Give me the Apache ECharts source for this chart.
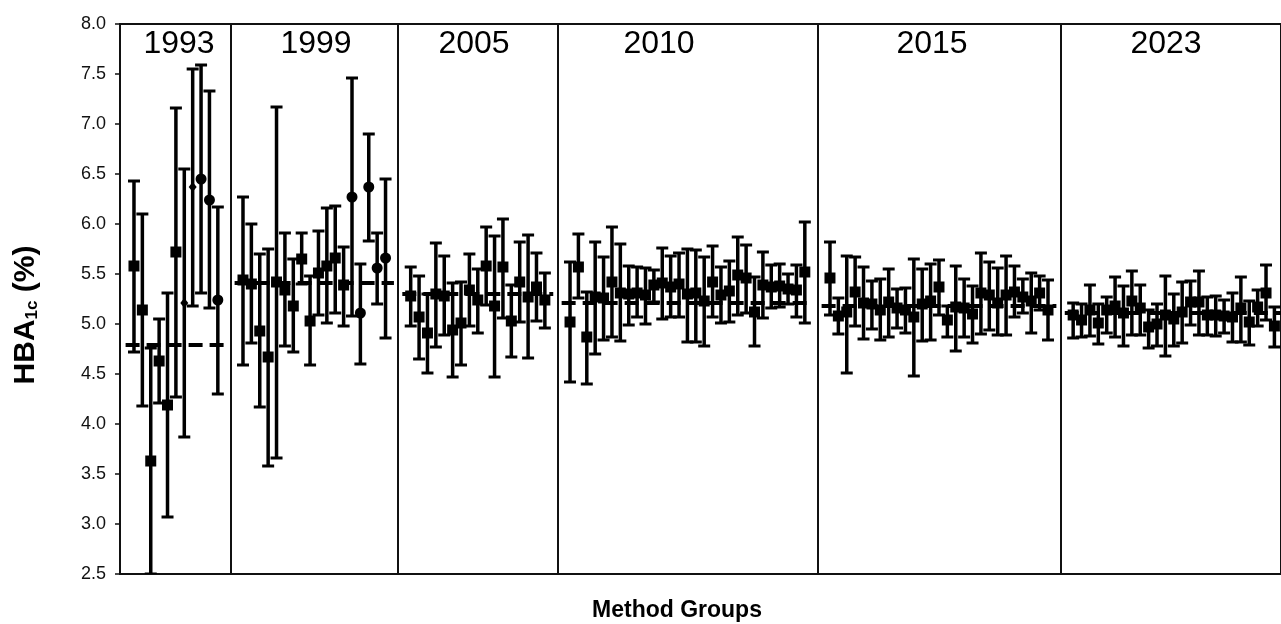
<!DOCTYPE html>
<html><head><meta charset="utf-8">
<script src="https://cdn.jsdelivr.net/npm/echarts@6/dist/echarts.min.js"></script>
<style>html,body{margin:0;padding:0;background:#fff}#c{width:1281px;height:624px}</style>
</head><body><div id="c"></div><script>
// ---- data ----
const years = ['1993','1999','2005','2010','2015','2023'];
const targets = [4.79, 5.41, 5.30, 5.21, 5.18, 5.11];
const yTicks = [2.5,3.0,3.5,4.0,4.5,5.0,5.5,6.0,6.5,7.0,7.5,8.0];

const mean1993 = [5.58, 5.14, 3.63, 4.63, 4.19, 5.72, 5.21, 6.37, 6.45, 6.24, 5.24];
const low1993  = [4.72, 4.18, 2.50, 4.21, 3.07, 4.27, 3.87, 5.18, 5.31, 5.16, 4.30];
const high1993 = [6.43, 6.10, 4.76, 5.05, 5.31, 7.16, 6.55, 7.55, 7.59, 7.33, 6.17];
const mark1993 = ['rect','rect','rect','rect','rect','rect','diamond','diamond','circle','circle','circle'];

const mean1999 = [5.44, 5.40, 4.93, 4.67, 5.42, 5.34, 5.18, 5.65, 5.03, 5.51, 5.58, 5.66, 5.39, 6.27, 5.11, 6.37, 5.56, 5.66];
const low1999  = [4.59, 4.81, 4.17, 3.58, 3.66, 4.78, 4.72, 5.40, 4.59, 5.09, 5.01, 5.11, 4.98, 5.08, 4.60, 5.83, 5.20, 4.86];
const high1999 = [6.27, 6.00, 5.70, 5.75, 7.17, 5.91, 5.65, 5.91, 5.48, 5.93, 6.16, 6.18, 5.77, 7.46, 5.60, 6.90, 5.91, 6.45];
const mark1999 = ['rect','rect','rect','rect','rect','rect','rect','rect','rect','rect','rect','rect','rect','circle','circle','circle','circle','circle'];

const mean2005 = [5.28, 5.07, 4.91, 5.30, 5.28, 4.94, 5.01, 5.34, 5.24, 5.58, 5.18, 5.57, 5.03, 5.42, 5.27, 5.37, 5.24];
const low2005  = [4.98, 4.65, 4.51, 4.77, 4.89, 4.47, 4.59, 4.98, 4.91, 5.19, 4.47, 5.06, 4.67, 5.02, 4.66, 5.03, 4.96];
const high2005 = [5.57, 5.48, 5.30, 5.81, 5.68, 5.41, 5.42, 5.70, 5.55, 5.97, 5.88, 6.05, 5.39, 5.82, 5.89, 5.71, 5.51];

const mean2010 = [5.02, 5.57, 4.87, 5.27, 5.26, 5.42, 5.31, 5.30, 5.31, 5.29, 5.39, 5.41, 5.37, 5.40, 5.30, 5.31, 5.23, 5.42, 5.29, 5.33, 5.49, 5.46, 5.12, 5.39, 5.37, 5.38, 5.35, 5.34, 5.52];
const low2010  = [4.42, 5.26, 4.40, 4.70, 4.84, 4.87, 4.83, 4.99, 5.07, 5.00, 5.22, 5.05, 5.07, 5.07, 4.82, 4.82, 4.78, 5.07, 5.01, 5.02, 5.09, 5.11, 4.78, 5.06, 5.16, 5.17, 5.20, 5.07, 5.01];
const high2010 = [5.62, 5.90, 5.32, 5.82, 5.67, 5.97, 5.80, 5.58, 5.57, 5.56, 5.54, 5.76, 5.68, 5.71, 5.75, 5.74, 5.67, 5.78, 5.57, 5.63, 5.87, 5.79, 5.47, 5.72, 5.59, 5.60, 5.50, 5.59, 6.02];

const mean2015 = [5.46, 5.08, 5.12, 5.32, 5.21, 5.20, 5.14, 5.22, 5.16, 5.14, 5.07, 5.20, 5.23, 5.37, 5.04, 5.17, 5.16, 5.10, 5.31, 5.29, 5.21, 5.29, 5.32, 5.27, 5.23, 5.31, 5.14];
const low2015  = [5.09, 4.90, 4.51, 4.98, 4.85, 4.95, 4.84, 4.87, 4.96, 4.91, 4.48, 4.83, 4.84, 5.09, 4.87, 4.73, 4.87, 4.81, 4.90, 4.94, 4.89, 4.89, 5.07, 5.11, 4.91, 5.14, 4.84];
const high2015 = [5.82, 5.26, 5.68, 5.67, 5.57, 5.43, 5.45, 5.55, 5.35, 5.36, 5.65, 5.55, 5.60, 5.64, 5.18, 5.58, 5.45, 5.38, 5.71, 5.62, 5.56, 5.68, 5.58, 5.45, 5.51, 5.48, 5.44];

const mean2023 = [5.09, 5.04, 5.14, 5.01, 5.14, 5.18, 5.11, 5.23, 5.16, 4.97, 5.00, 5.09, 5.05, 5.12, 5.22, 5.22, 5.09, 5.09, 5.08, 5.07, 5.16, 5.02, 5.17, 5.31, 4.98];
const low2023  = [4.86, 4.87, 4.88, 4.80, 4.91, 4.87, 4.78, 4.89, 4.89, 4.76, 4.78, 4.68, 4.78, 4.81, 4.99, 4.89, 4.89, 4.88, 4.91, 4.82, 4.82, 4.79, 4.98, 5.04, 4.77];
const high2023 = [5.21, 5.20, 5.39, 5.20, 5.27, 5.47, 5.38, 5.53, 5.39, 5.14, 5.20, 5.48, 5.30, 5.42, 5.43, 5.53, 5.27, 5.28, 5.24, 5.31, 5.47, 5.23, 5.34, 5.59, 5.17];

// ---- layout (not data) ----
const yearLabelX = [179, 316, 474, 659, 932, 1166];
const GAP = 2; // empty slots between groups

const groups = [
  {mean: mean1993, low: low1993, high: high1993, mark: mark1993},
  {mean: mean1999, low: low1999, high: high1999, mark: mark1999},
  {mean: mean2005, low: low2005, high: high2005},
  {mean: mean2010, low: low2010, high: high2010},
  {mean: mean2015, low: low2015, high: high2015},
  {mean: mean2023, low: low2023, high: high2023}
];

const errData = [], ptData = [], dashSeries = [], seps = [];
let idx = 0;
groups.forEach((g, gi) => {
  const start = idx;
  g.mean.forEach((m, i) => {
    const x = idx + i;
    errData.push([x, g.low[i], g.high[i]]);
    const sym = g.mark ? g.mark[i] : 'rect';
    ptData.push({value: [x, m], symbol: sym, symbolSize: sym === 'diamond' ? [8, 10] : 11});
  });
  const end = idx + g.mean.length - 1;
  dashSeries.push({
    type: 'line', data: [[start - 1, targets[gi]], [end + 1, targets[gi]]],
    symbol: 'none', silent: true, z: 1,
    lineStyle: {color: '#000', width: 4, type: [14, 7]}
  });
  idx = end + 1 + GAP;
  if (gi < groups.length - 1) seps.push(end + (GAP + 1) / 2);
});

const slot = 8.4;           // px per slot
const gridLeft = 120, gridRight = -2, W = 1281;
const xMin = -14 / slot;
const xMax = xMin + (W - gridRight - gridLeft) / slot;

const chart = echarts.init(document.getElementById('c'), null, {renderer: 'canvas'});
const FONT = "'Liberation Sans', Arial, sans-serif";

const option = {
  animation: false,
  grid: {left: gridLeft, right: gridRight, top: 24, bottom: 50, show: true, borderColor: '#111', borderWidth: 2},
  xAxis: {type: 'value', min: xMin, max: xMax, show: false},
  yAxis: {
    type: 'value', min: 2.5, max: 8.0, interval: 0.5,
    axisLine: {show: true, onZero: false, lineStyle: {color: '#111', width: 2}},
    axisTick: {show: true, length: 5, lineStyle: {color: '#111', width: 1.5}},
    axisLabel: {color: '#111', fontSize: 18, fontFamily: FONT, margin: 14,
      formatter: v => yTicks.includes(+v.toFixed(1)) ? v.toFixed(1) : ''},
    splitLine: {show: false}
  },
  graphic: [
    ...years.map((y, i) => ({
      type: 'text', x: yearLabelX[i], y: 44, z: 10,
      style: {text: y, font: `32px ${FONT}`, fill: '#000', align: 'center', verticalAlign: 'middle'}
    })),
    {type: 'text', x: 677, y: 611, style: {text: 'Method Groups', font: `bold 23px ${FONT}`, fill: '#000', align: 'center', verticalAlign: 'middle'}},
    {type: 'text', x: 26, y: 315, rotation: Math.PI / 2,
      style: {text: '{a|HBA}{b|1c}{a| (%)}', align: 'center', verticalAlign: 'middle', fill: '#000',
        rich: {a: {font: `bold 30px ${FONT}`, fill: '#000'},
               b: {font: `bold 17px ${FONT}`, fill: '#000', verticalAlign: 'bottom', padding: [7, 0, 0, 0]}}}}
  ],
  series: [
    {
      type: 'line', data: [], silent: true,
      markLine: {silent: true, symbol: ['none', 'none'], label: {show: false},
        lineStyle: {color: '#111', width: 2, type: 'solid'},
        data: seps.map(v => ({xAxis: v}))}
    },
    ...dashSeries,
    {
      type: 'custom', clip: true, z: 3, data: errData,
      renderItem(params, api) {
        const x = api.value(0), lo = api.value(1), hi = api.value(2);
        const pLo = api.coord([x, lo]), pHi = api.coord([x, hi]);
        const cap = 6;
        return {type: 'group', children: [
          {type: 'line', shape: {x1: pLo[0], y1: pLo[1], x2: pHi[0], y2: pHi[1]}, style: {stroke: '#000', lineWidth: 3.5}},
          {type: 'line', shape: {x1: pHi[0] - cap, y1: pHi[1], x2: pHi[0] + cap, y2: pHi[1]}, style: {stroke: '#000', lineWidth: 3}},
          {type: 'line', shape: {x1: pLo[0] - cap, y1: pLo[1], x2: pLo[0] + cap, y2: pLo[1]}, style: {stroke: '#000', lineWidth: 3}}
        ]};
      }
    },
    {
      type: 'scatter', z: 4, data: ptData,
      itemStyle: {color: '#000', opacity: 1}
    }
  ]
};
chart.setOption(option);
</script></body></html>
